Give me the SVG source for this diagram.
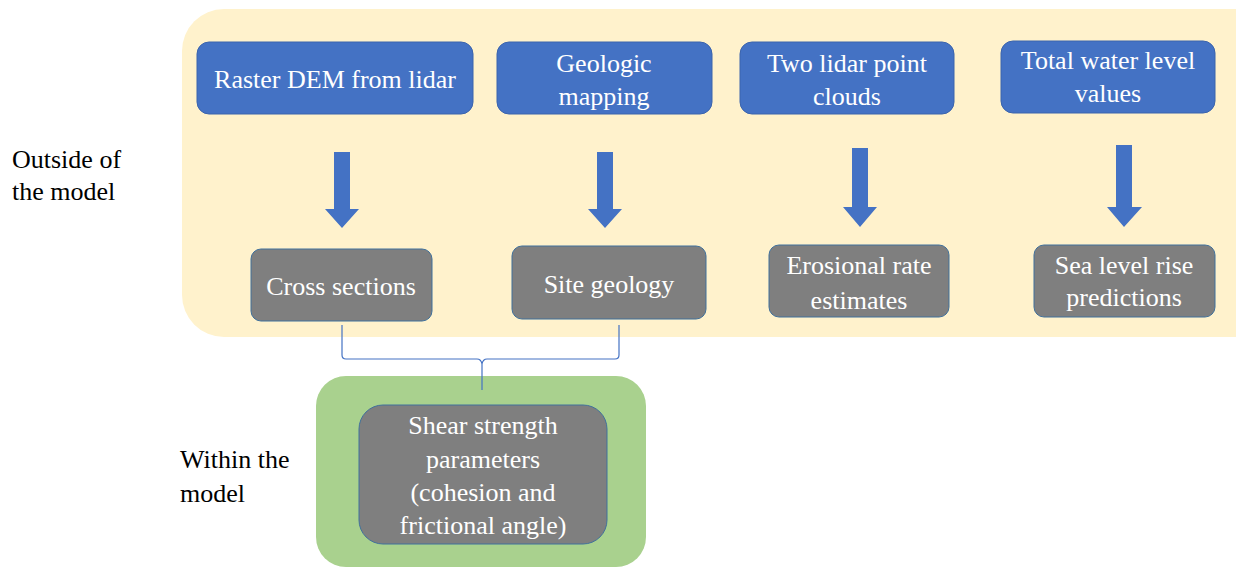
<svg xmlns="http://www.w3.org/2000/svg" width="1236" height="569" viewBox="0 0 1236 569">
<style>
.t{font-family:'Liberation Serif','Times New Roman',serif;font-size:26px;text-anchor:middle;fill:#ffffff}
.lbl{font-family:'Liberation Serif','Times New Roman',serif;font-size:26px;fill:#000000}
.blue{fill:#4472c4;stroke:#3b64ad;stroke-width:1}
.gray{fill:#7f7f7f;stroke:#41719c;stroke-width:1}
.arr{fill:#4472c4}
</style>
<rect width="1236" height="569" fill="#ffffff"/>
<g id="outside-region"><rect x="182" y="9" width="1100" height="328" rx="42" fill="#fff2cc"/></g>
<g id="within-region"><rect x="316" y="376" width="330" height="191" rx="30" fill="#a9d18e"/></g>
<g id="label-outside"><text class="lbl" x="12" y="168" font-family="Liberation Serif">Outside of</text><text class="lbl" x="12" y="200" font-family="Liberation Serif">the model</text></g>
<g id="label-within"><text class="lbl" x="180" y="468" font-family="Liberation Serif">Within the</text><text class="lbl" x="180" y="502" font-family="Liberation Serif">model</text></g>
<g id="n-raster"><rect class="blue" x="197" y="42" width="276" height="72" rx="12"/><text class="t" x="335" y="88">Raster DEM from lidar</text></g>
<g id="n-geologic"><rect class="blue" x="497" y="42" width="215" height="72" rx="12"/><text class="t" x="604" y="72">Geologic</text><text class="t" x="604" y="105">mapping</text></g>
<g id="n-twolidar"><rect class="blue" x="740" y="42" width="214" height="72" rx="12"/><text class="t" x="847" y="72">Two lidar point</text><text class="t" x="847" y="105">clouds</text></g>
<g id="n-totalwater"><rect class="blue" x="1001" y="41" width="214" height="72" rx="12"/><text class="t" x="1108" y="69">Total water level</text><text class="t" x="1108" y="102">values</text></g>
<g id="n-cross"><rect class="gray" x="251" y="249" width="181" height="72" rx="10"/><text class="t" x="341" y="295">Cross sections</text></g>
<g id="n-site"><rect class="gray" x="512" y="246" width="194" height="73" rx="10"/><text class="t" x="609" y="293">Site geology</text></g>
<g id="n-erosional"><rect class="gray" x="769" y="245" width="180" height="72" rx="10"/><text class="t" x="859" y="274">Erosional rate</text><text class="t" x="859" y="309">estimates</text></g>
<g id="n-sealevel"><rect class="gray" x="1034" y="245" width="181" height="72" rx="10"/><text class="t" x="1124" y="274">Sea level rise</text><text class="t" x="1124" y="306">predictions</text></g>
<g id="n-shear"><rect class="gray" x="359" y="405" width="248" height="139" rx="24"/><text class="t" x="483" y="434">Shear strength</text><text class="t" x="483" y="468">parameters</text><text class="t" x="483" y="501">(cohesion and</text><text class="t" x="483" y="534">frictional angle)</text></g>
<g id="connectors">
<polygon class="arr" points="334,152 350,152 350,209 359,209 342,228 325,209 334,209"/>
<polygon class="arr" points="597,152 613,152 613,209 622,209 605,228 588,209 597,209"/>
<polygon class="arr" points="852,148 868,148 868,207 877,207 860,227 843,207 852,207"/>
<polygon class="arr" points="1116,145 1132,145 1132,207 1142,207 1124,227 1107,207 1116,207"/>
<path d="M342,325 L342,355 Q342,359 346,359 L477,359 Q481,359 482,364 L482,390 M482,364 Q483,359 487,359 L615,359 Q619,359 619,355 L619,325" fill="none" stroke="#4472c4" stroke-width="1.2"/>
</g>
</svg>
